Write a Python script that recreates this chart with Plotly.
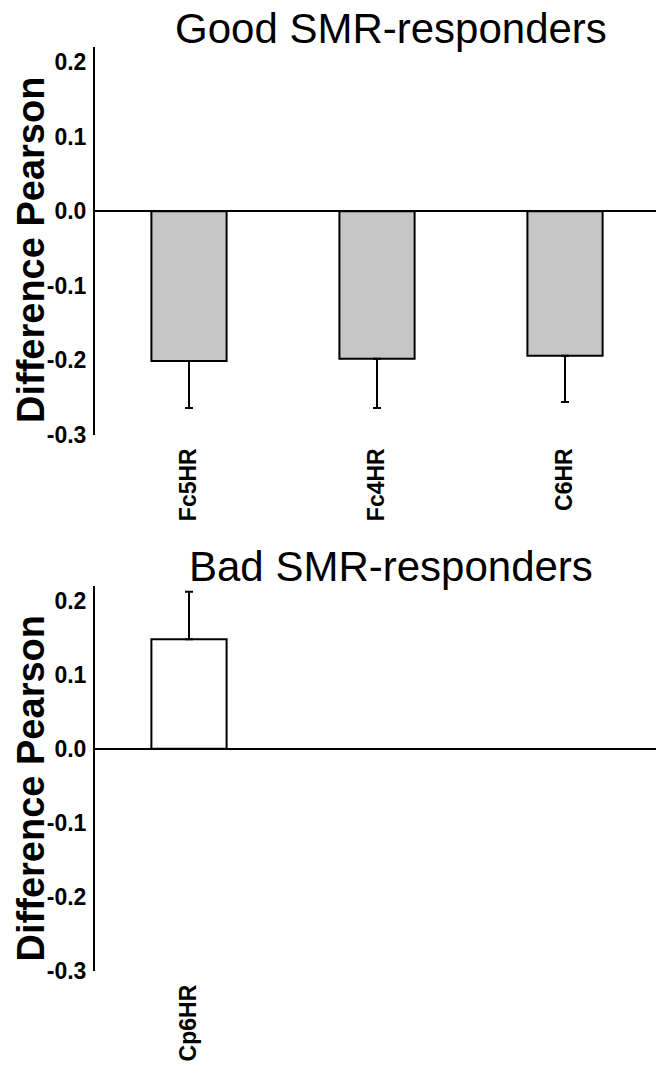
import plotly.graph_objects as go

# Data
good_categories = ["Fc5HR", "Fc4HR", "C6HR"]
good_values = [-0.201, -0.198, -0.194]
good_err_minus = [0.063, 0.066, 0.062]

bad_categories = ["Cp6HR"]
bad_values = [0.148]
bad_err_plus = [0.064]

y_tickvals = [-0.3, -0.2, -0.1, 0.0, 0.1, 0.2]
y_ticktext = ["-0.3", "-0.2", "-0.1", "0.0", "0.1", "0.2"]

panel_titles = ["Good SMR-responders", "Bad SMR-responders"]
y_title = "Difference Pearson"

W, H = 656, 1079
FONT = "Liberation Sans, Arial, sans-serif"

fig = go.Figure()

fig.add_trace(go.Bar(
    x=good_categories, y=good_values, width=0.4,
    marker=dict(color="#c6c6c6", line=dict(color="black", width=2)),
    error_y=dict(type="data", symmetric=False, array=[0] * len(good_values),
                 arrayminus=good_err_minus, color="black", thickness=2, width=4),
    xaxis="x", yaxis="y", showlegend=False,
))
fig.add_trace(go.Bar(
    x=bad_categories, y=bad_values, width=0.4,
    marker=dict(color="white", line=dict(color="black", width=2)),
    error_y=dict(type="data", symmetric=False, array=bad_err_plus,
                 arrayminus=[0] * len(bad_values), color="black", thickness=2, width=4),
    xaxis="x2", yaxis="y2", showlegend=False,
))

def px_x(p):
    return p / W

def px_y(p):
    return 1 - p / H

x_dom = [px_x(95), 1.0]
xrange = [-0.5, 2.484]

common_x = dict(
    domain=x_dom, range=xrange, type="category", showline=False, showgrid=False,
    zeroline=False, ticks="", tickangle=-90, ticklabelstandoff=8,
    tickfont=dict(family=FONT, size=23, color="black", weight="bold"),
)
common_y = dict(
    range=[-0.3, 0.22], showline=True, linecolor="black", linewidth=2,
    showgrid=False, zeroline=True, zerolinecolor="black", zerolinewidth=2,
    ticks="", tickvals=y_tickvals, ticktext=y_ticktext, ticklabelstandoff=2,
    tickfont=dict(family=FONT, size=23, color="black", weight="bold"),
)

fig.update_layout(
    width=W, height=H,
    margin=dict(l=0, r=0, t=0, b=0),
    paper_bgcolor="white", plot_bgcolor="white",
    xaxis=dict(anchor="y", **common_x),
    yaxis=dict(anchor="x", domain=[px_y(440), px_y(48)], **common_y),
    xaxis2=dict(anchor="y2", **common_x),
    yaxis2=dict(anchor="x2", domain=[px_y(983), px_y(593)], **common_y),
)

# Panel titles
for title, yc in zip(panel_titles, [29, 573]):
    fig.add_annotation(
        text=title, xref="paper", yref="paper", x=px_x(391), y=px_y(yc),
        xanchor="center", yanchor="middle", showarrow=False,
        font=dict(family=FONT, size=42, color="black"),
    )

# Y-axis titles
for yc in [253, 798]:
    fig.add_annotation(
        text=y_title, xref="paper", yref="paper", x=px_x(31), y=px_y(yc),
        xanchor="center", yanchor="middle", textangle=-90, showarrow=False,
        font=dict(family=FONT, size=38, color="black", weight="bold"),
    )

fig.write_html("out.html")
